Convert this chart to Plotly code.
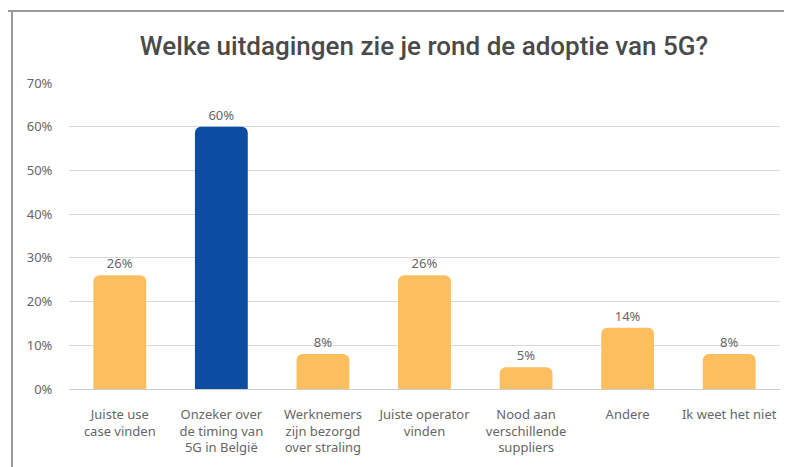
import plotly.graph_objects as go

categories = [
    "Juiste use<br>case vinden",
    "Onzeker over<br>de timing van<br>5G in België",
    "Werknemers<br>zijn bezorgd<br>over straling",
    "Juiste operator<br>vinden",
    "Nood aan<br>verschillende<br>suppliers",
    "Andere",
    "Ik weet het niet",
]
values = [26, 60, 8, 26, 5, 14, 8]
bar_colors = ["#FDBE5F", "#0C4DA2", "#FDBE5F", "#FDBE5F", "#FDBE5F", "#FDBE5F", "#FDBE5F"]
y_ticks = [0, 10, 20, 30, 40, 50, 60, 70]
title_text = "Welke uitdagingen zie je rond de adoptie van 5G?"

# page body has an 8px margin; figure is placed at (8, 8) in the window
OFF = 8
W, H = 792 - OFF, 467 - OFF
L, T = 69 - OFF, 83 - OFF
R = (792 - OFF) - 780 + OFF
B = (467 - OFF) - 389 + OFF

fig = go.Figure(go.Bar(
    x=categories,
    y=values,
    marker=dict(color=bar_colors, cornerradius=6, line=dict(width=0)),
    width=0.52,
    text=[f"{v}%" for v in values],
    textposition="outside",
    textfont=dict(family="Noto Sans", size=13, color="#666666"),
    cliponaxis=False,
))

def px_to_paper_x(px):
    return (px - OFF - L) / (W - L - R)

def px_to_paper_y(py):
    return (H - B - (py - OFF)) / (H - T - B)

fig.update_layout(
    width=W, height=H,
    margin=dict(l=L, r=R, t=T, b=B, autoexpand=False),
    paper_bgcolor="white",
    plot_bgcolor="white",
    showlegend=False,
    bargap=0.48,
    title=dict(
        text=title_text,
        x=(424 - OFF) / W,
        xanchor="center",
        y=1 - (46 - OFF) / H,
        yanchor="middle",
        font=dict(family="Roboto", size=26, color="#4a4a4a", weight=500),
    ),
    font=dict(family="Noto Sans", color="#666666", size=13),
    xaxis=dict(
        automargin=False,
        showgrid=False,
        showline=True,
        linecolor="#cccccc",
        linewidth=1,
        ticks="outside",
        ticklen=13,
        tickcolor="rgba(0,0,0,0)",
        tickfont=dict(size=13, color="#666666"),
        tickangle=0,
    ),
    yaxis=dict(
        automargin=False,
        range=[0, 70],
        tickvals=y_ticks,
        ticktext=[f"{t}%" for t in y_ticks],
        showgrid=True,
        gridcolor="#d9d9d9",
        gridwidth=1,
        zeroline=False,
        showline=False,
        ticks="outside",
        ticklen=13,
        tickcolor="rgba(0,0,0,0)",
        tickfont=dict(size=13, color="#666666"),
    ),
    shapes=[
        dict(type="line", xref="paper", yref="paper",
             x0=px_to_paper_x(8), x1=px_to_paper_x(800),
             y0=px_to_paper_y(11), y1=px_to_paper_y(11),
             line=dict(color="#9a9a9a", width=2)),
        dict(type="line", xref="paper", yref="paper",
             x0=px_to_paper_x(12), x1=px_to_paper_x(12),
             y0=px_to_paper_y(10), y1=px_to_paper_y(480),
             line=dict(color="#9a9a9a", width=2)),
    ],
)

fig.write_html("out.html")
